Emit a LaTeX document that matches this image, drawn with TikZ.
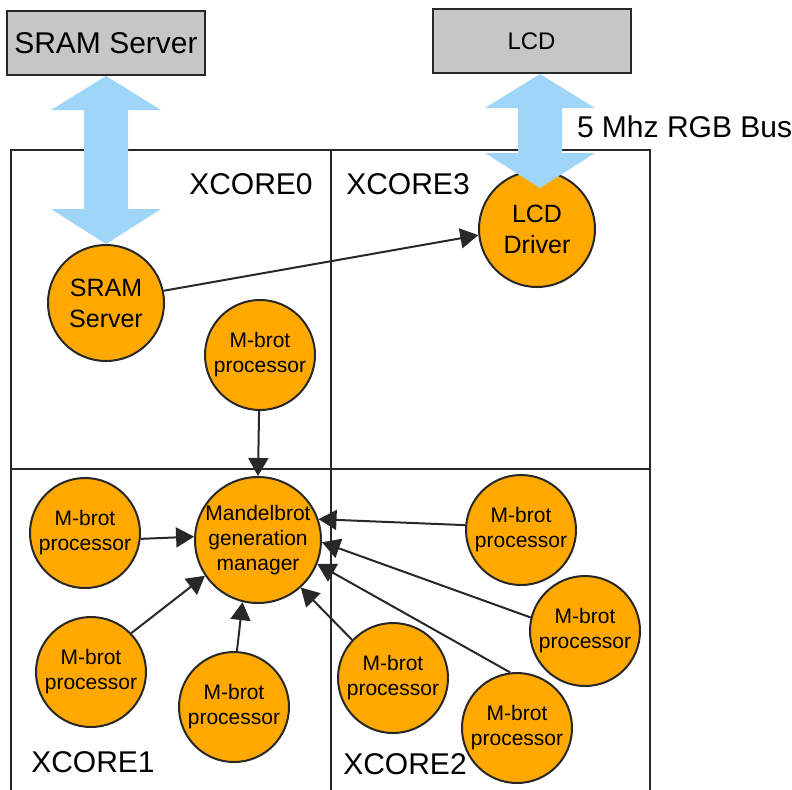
\documentclass[tikz,border=0pt]{standalone}
\usepackage{fontspec}
\setmainfont{Liberation Sans}
\usetikzlibrary{arrows.meta}
\usetikzlibrary{calc}
\usetikzlibrary{positioning}

\definecolor{busblue}{RGB}{159,213,248}
\definecolor{taskorange}{RGB}{255,168,0}
\definecolor{devgray}{RGB}{198,198,198}
\definecolor{linegray}{RGB}{40,40,40}

% wide double-headed bus arrow between two points, top to bottom
\newcommand{\buslink}[2]{%
  \fill[busblue] (#1) -- ++(55,34) -- ++(-33,0) -- ($(#2)+(22,-35)$)
    -- ++(33,0) -- (#2) -- ++(-55,-35) -- ++(33,0) -- ($(#1)+(-22,34)$)
    -- ++(-33,0) -- cycle;}

\begin{document}
\begin{tikzpicture}[x=0.5pt, y=-0.5pt, on grid, line width=1pt,
    >={Triangle[length=9pt,width=10pt]},
    device/.style={draw=linegray, fill=devgray, minimum width=99pt,
      minimum height=32pt, inner sep=0pt},
    task/.style={circle, draw=linegray, fill=taskorange, inner sep=0pt, align=center},
    bigtask/.style={task, minimum size=58pt, font=\fontsize{12.5}{15.5}\selectfont},
    mbrot/.style={task, minimum size=55pt, font=\fontsize{10.5}{12.5}\selectfont},
    core/.style={draw=linegray},
    corelabel/.style={font=\fontsize{15}{18}\selectfont}]
      \useasboundingbox (0,0) rectangle (792,789);
      \clip (0,0) rectangle (792,789);

      % the four cores
      \draw[core] (11,150) rectangle (331,469);
      \draw[core] (331,150) rectangle (650,469);
      \draw[core] (11,469) rectangle (331,800);
      \draw[core] (331,469) rectangle (650,800);
      \node[corelabel] (core0) at (251,184) {XCORE0};
      \node[corelabel] (core3) at (408,184) {XCORE3};
      \node[corelabel] (core1) at (93,762) {XCORE1};
      \node[corelabel] (core2) at (405,764) {XCORE2};

      \node[device, font=\fontsize{15}{18}\selectfont] (srambox) at (106,43) {SRAM Server};
      \node[device, font=\fontsize{12}{14}\selectfont] (lcd) at (531.5,41) {LCD};

      \node[bigtask, below=130pt of srambox] (sram) {SRAM\\Server};
      \node[bigtask, below=94pt of lcd, xshift=2.75pt] (drv) {LCD\\Driver};

      \node[mbrot, minimum size=63pt] (mgr) at (258,540) {Mandelbrot\\generation\\manager};
      \node[mbrot, above=92.5pt of mgr, xshift=1pt] (p0) {M-brot\\processor};
      \node[mbrot, above left=3.5pt and 86.5pt of mgr] (p1) {M-brot\\processor};
      \node[mbrot, below left=66pt and 83.5pt of mgr] (p2) {M-brot\\processor};
      \node[mbrot, below left=83.5pt and 12pt of mgr] (p3) {M-brot\\processor};
      \node[mbrot, above right=5pt and 131.5pt of mgr] (p4) {M-brot\\processor};
      \node[mbrot, below right=45.5pt and 163.5pt of mgr] (p5) {M-brot\\processor};
      \node[mbrot, below right=69pt and 67.5pt of mgr] (p6) {M-brot\\processor};
      \node[mbrot, below right=94pt and 129.5pt of mgr] (p7) {M-brot\\processor};

      \draw[->, linegray] (sram.12) -- (drv.186);
      \draw[->, linegray] (p0) -- (mgr.north);
      \draw[->, linegray] (p1.-6) -- (mgr.177);
      \draw[->, linegray] (p2.44) -- (mgr.214);
      \draw[->, linegray] (p3.87) -- (mgr.256);
      \draw[->, linegray] (p4.175) -- (mgr.19);
      \draw[->, linegray] (p5.166) -- (mgr.-2);
      \draw[->, linegray] (p6.137) -- (mgr.-48);
      \draw[->, linegray] (p7.97) -- (mgr.-22);

      % buses
      \coordinate (lcdtop) at ($(lcd.south)+(8.5,0)$);
      \coordinate (lcdbot) at ($(lcdtop)+(0,114)$);
      \buslink{srambox.south}{srambox.south |- sram.north}
      \buslink{lcdtop}{lcdbot}
      \node[corelabel, anchor=base west, inner sep=0pt, on grid=false] (buslbl) at (576,137) {5 Mhz RGB Bus};
    \end{tikzpicture}
\end{document}
